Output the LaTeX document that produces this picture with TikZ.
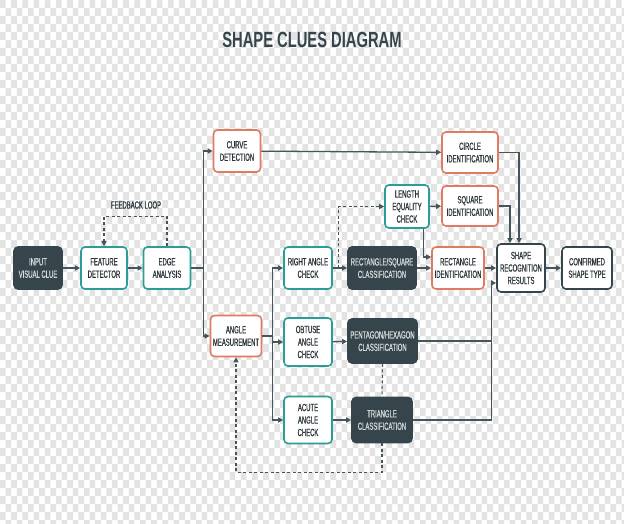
\documentclass[tikz,border=0pt]{standalone}
\usepackage{fontspec}
\setmainfont{Liberation Sans}
\newfontfamily\nodefont[FakeStretch=0.57,FakeBold=0.6]{Liberation Sans}
\newfontfamily\titlefont[FakeStretch=0.67]{Liberation Sans}
\usetikzlibrary{arrows.meta,calc}
\definecolor{darkbox}{HTML}{36454B}
\definecolor{tealc}{HTML}{2A9D96}
\definecolor{coralc}{HTML}{E07A63}
\definecolor{linec}{HTML}{44555C}
\definecolor{txtc}{HTML}{2A3438}
\definecolor{lighttxt}{HTML}{D5DADC}
\definecolor{chkc}{HTML}{E3E3E3}
\begin{document}
\begin{tikzpicture}[x=1pt,y=-1pt,
  base/.style={rounded corners=4pt, line width=1.6pt, align=center, inner sep=0pt,
    font=\nodefont\fontsize{10.4}{12.5}\selectfont, minimum height=42},
  tealbox/.style={base, draw=tealc, fill=white, text=txtc},
  coralbox/.style={base, draw=coralc, fill=white, text=txtc},
  darkbox/.style={base, draw=darkbox, fill=darkbox, text=lighttxt},
  outbox/.style={base, draw=darkbox, fill=white, text=txtc},
  arr/.style={draw=linec, line width=1.3pt, -{Triangle[length=5pt,width=5pt]}},
  ln/.style={draw=linec, line width=1.3pt},
  darr/.style={draw=linec, line width=1.1pt, dashed, dash pattern=on 3pt off 2.5pt, -{Triangle[length=5pt,width=5pt]}},
  dln/.style={draw=linec, line width=1.1pt, dashed, dash pattern=on 3pt off 2.5pt},
  lbl/.style={font=\nodefont\fontsize{10.4}{12}\selectfont, text=txtc, inner sep=0pt}]
\useasboundingbox (0,0) rectangle (624,524);
\fill[white] (0,0) rectangle (624,524);
\fill[chkc] \foreach \i in {0,...,56} {\foreach \j in {0,...,33} {
  (\i*11.2,\j*16) rectangle ++(5.6,8) (\i*11.2+5.6,\j*16+8) rectangle ++(5.6,8)}};

\node[font=\titlefont\bfseries\fontsize{22}{24}\selectfont, text=darkbox, inner sep=0pt] (title) at (312,40) {SHAPE CLUES DIAGRAM};

\node[darkbox, minimum width=48] (in) at (38,268) {INPUT\\VISUAL CLUE};
\node[tealbox, minimum width=46] (fd) at (104,268) {FEATURE\\DETECTOR};
\node[tealbox, minimum width=47] (ea) at (167,268) {EDGE\\ANALYSIS};
\node[lbl] (fbl) at (136,205) {FEEDBACK LOOP};

\node[coralbox, minimum width=47] (cd) at (237,151) {CURVE\\DETECTION};
\node[coralbox, minimum width=51, minimum height=41] (am) at (236,336) {ANGLE\\MEASUREMENT};

\node[tealbox, minimum width=48] (rac) at (308,268) {RIGHT ANGLE\\CHECK};
\node[tealbox, minimum width=48, minimum height=48] (oac) at (308,342) {OBTUSE\\ANGLE\\CHECK};
\node[tealbox, minimum width=48, minimum height=47] (aac) at (308,420) {ACUTE\\ANGLE\\CHECK};

\node[darkbox, minimum width=68] (rsc) at (382,268) {RECTANGLE/SQUARE\\CLASSIFICATION};
\node[darkbox, minimum width=69, minimum height=44] (phc) at (382.5,341) {PENTAGON/HEXAGON\\CLASSIFICATION};
\node[darkbox, minimum width=60, minimum height=45] (tc) at (382,420) {TRIANGLE\\CLASSIFICATION};

\node[tealbox, minimum width=44, minimum height=43] (lec) at (407,206.5) {LENGTH\\EQUALITY\\CHECK};
\node[coralbox, minimum width=56, minimum height=41] (ci) at (470,152.5) {CIRCLE\\IDENTIFICATION};
\node[coralbox, minimum width=56, minimum height=40] (sqi) at (470,206) {SQUARE\\IDENTIFICATION};
\node[coralbox, minimum width=52] (ri) at (458,268) {RECTANGLE\\IDENTIFICATION};

\node[outbox, minimum width=48, minimum height=48] (srr) at (521,268) {SHAPE\\RECOGNITION\\RESULTS};
\node[outbox, minimum width=50] (cst) at (587,268) {CONFIRMED\\SHAPE TYPE};

% main flow
\draw[arr] (in) -- (fd);
\draw[arr] (fd) -- (ea);
\draw[darr] (ea.north) -- ++(0,-30) -| (fd.north);
\draw[arr] (ea.east) -- ++(12,0) |- (cd.west);
\draw[arr] (ea.east) -- ++(12,0) |- (am.west);

% curve branch
\draw[arr] (cd) -- (ci);
\draw[arr] (ci.east) -| ($(srr.north)+(-2,0)$);

% angle branch
\draw[arr] (am.east) -- ++(10,0) |- (rac.west);
\draw[arr] (am.east) -- ++(10,0) |- (oac.west);
\draw[arr] (am.east) -- ++(10,0) |- (aac.west);
\draw[arr] (rac) -- (rsc);
\draw[arr] (oac) -- (phc);
\draw[arr] (aac) -- (tc);

\draw[darr] ($(rac.east)+(6,0)$) |- (lec.west);
\draw[arr] (lec) -- (sqi);
\draw[arr] ($(lec.south east)+(-6,0)$) |- ($(ri.west)+(0,-11)$);
\draw[arr] (sqi.east) -| ($(srr.north)+(-11,0)$);
\draw[arr] (rsc) -- (ri);
\draw[arr] (ri) -- (srr);
\draw[arr] (srr) -- (cst);

\draw[arr] (phc.east) -- ++(74,0) |- ($(srr.west)+(0,15)$);
\draw[ln] (tc.east) -- ++(79,0) -- ++(0,-79);

\draw[dln] (phc.south) -- (tc.north);
\draw[darr] (tc.south) -- ++(0,29) -| (am.south);
\end{tikzpicture}
\end{document}
